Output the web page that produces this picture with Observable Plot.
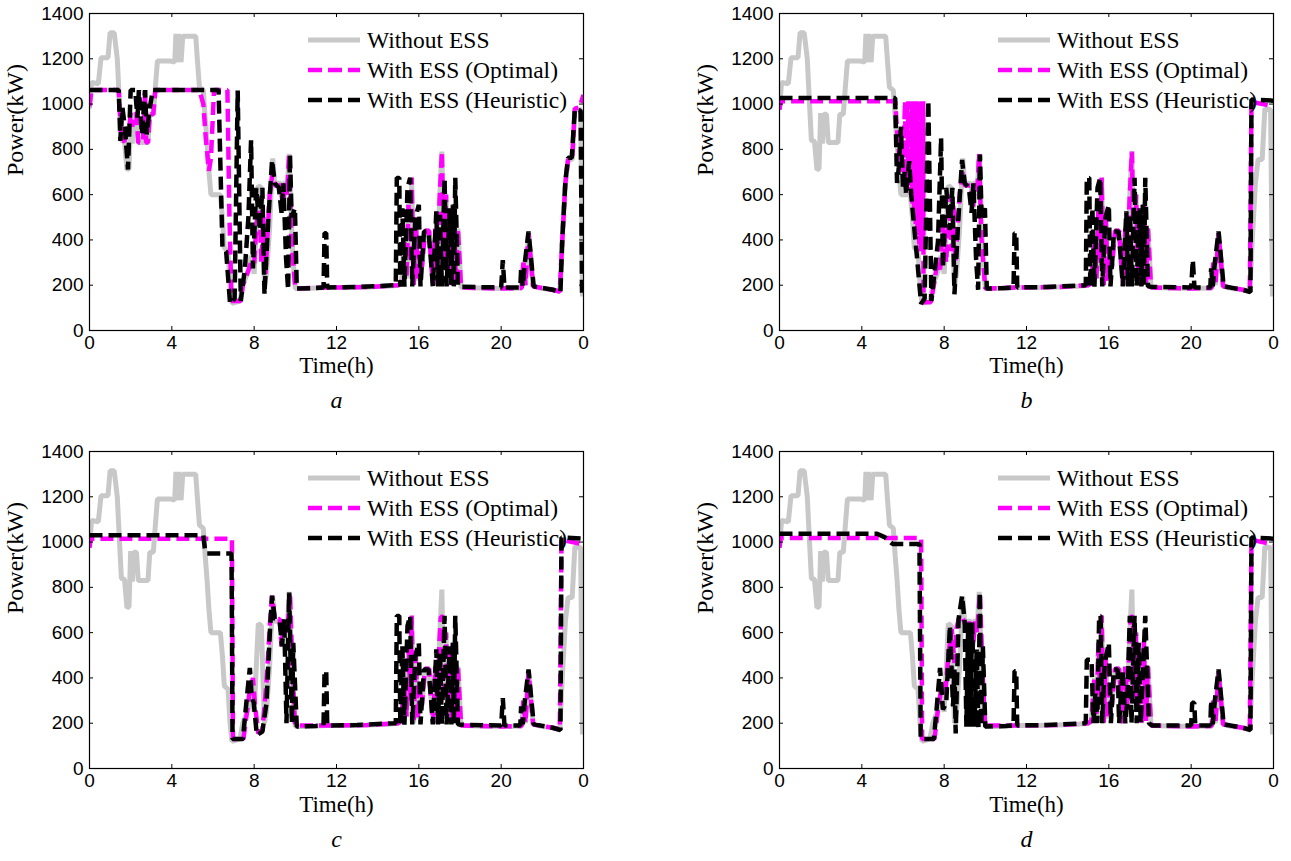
<!DOCTYPE html>
<html>
<head>
<meta charset="utf-8">
<script src="https://cdn.jsdelivr.net/npm/d3@7"></script>
<script src="https://cdn.jsdelivr.net/npm/@observablehq/plot@0.6"></script>
<style>
  html, body { margin: 0; padding: 0; background: #fff; }
  #root { position: relative; width: 1291px; height: 861px; overflow: hidden; background: #fff; }
  .panel { position: absolute; width: 640px; height: 425px; }
  .legend { position: absolute; font-family: "Liberation Serif", "Times New Roman", serif; font-size: 23.5px; color: #000; }
  .legend .row { position: absolute; left: 0; height: 30px; display: flex; align-items: center; white-space: nowrap; }
  .legend svg { display: block; margin-right: 7px; }
</style>
</head>
<body>
<div id="root"></div>
<script>
// ---------------- data ----------------
const xTicks = [0, 4, 8, 12, 16, 20, 24];
const xTickLabels = ["0", "4", "8", "12", "16", "20", "0"];
const yTicks = [0, 200, 400, 600, 800, 1000, 1200, 1400];
const panelLetters = ["a", "b", "c", "d"];
const seriesNames = ["Without ESS", "With ESS (Optimal)", "With ESS (Heuristic)"];

// [time (h), power (kW)]
const loadWithoutESS = [[0,980],[0.1,1095],[0.43,1090],[0.56,1205],[0.9,1205],[1.0,1315],[1.2,1315],[1.35,1200],[1.45,1015],[1.55,840],[1.7,835],[1.82,710],[1.92,715],[2.0,960],[2.08,825],[2.15,955],[2.28,955],[2.37,830],[2.84,830],[2.93,955],[3.1,955],[3.2,1075],[3.3,1190],[3.95,1190],[4.14,1185],[4.2,1310],[4.27,1185],[4.34,1310],[4.45,1185],[4.53,1300],[5.16,1300],[5.25,1185],[5.34,1075],[5.53,1060],[5.62,940],[5.71,835],[5.8,705],[5.9,600],[6.36,600],[6.46,495],[6.55,365],[6.73,350],[6.83,200],[6.92,120],[7.3,130],[7.45,200],[7.7,260],[7.85,330],[8.0,250],[8.2,640],[8.35,630],[8.5,200],[8.6,250],[8.75,450],[8.9,760],[9.0,650],[9.3,650],[9.4,540],[9.5,660],[9.6,600],[9.7,780],[9.8,500],[9.9,300],[10.0,185],[10.5,185],[11.0,188],[11.5,190],[12.5,190],[13.5,192],[14.5,195],[15.0,200],[15.15,210],[15.3,400],[15.4,230],[15.5,560],[15.6,300],[15.65,675],[15.75,200],[15.85,500],[15.95,220],[16.05,350],[16.15,280],[16.3,440],[16.5,440],[16.6,300],[16.7,200],[16.8,450],[16.9,260],[17.0,560],[17.12,790],[17.22,300],[17.32,600],[17.42,250],[17.5,520],[17.6,200],[17.7,560],[17.8,210],[17.9,450],[18.05,190],[19.0,188],[20.0,185],[21.0,188],[21.08,300],[21.18,200],[21.33,430],[21.55,195],[22.0,185],[22.5,180],[22.85,172],[22.97,400],[23.12,650],[23.25,755],[23.45,755],[23.58,980],[23.86,975],[23.95,150]];

const optimalMorningA = [[0,990],[0.1,1062],[1.42,1062],[1.55,840],[1.7,835],[1.8,900],[1.9,860],[2.0,960],[2.08,900],[2.15,955],[2.28,955],[2.37,830],[2.6,830],[2.7,1062],[2.75,830],[2.84,830],[2.93,955],[3.1,955],[3.2,1062],[5.34,1062],[5.53,1000],[5.65,850],[5.8,705],[5.9,760],[6.05,1062],[6.7,1062],[6.8,500],[6.9,130],[7.35,130],[7.45,200],[7.7,260],[7.85,300],[8.0,290],[8.1,450],[8.25,580],[8.35,300],[8.45,500],[8.55,250],[8.75,600],[8.9,700],[9.0,640],[9.3,640],[9.4,540],[9.5,650],[9.6,600],[9.7,780],[9.8,420],[9.9,300],[10.0,185]];
const optimalMorningB = [[0,975],[0.05,1012],[5.62,1012],[5.7,900],[5.8,790],[5.9,760],[6.0,700],[6.1,1012],[6.14,680],[6.18,1012],[6.22,660],[6.26,1012],[6.3,630],[6.34,1012],[6.38,600],[6.42,1012],[6.46,560],[6.5,1012],[6.54,520],[6.58,1012],[6.62,470],[6.66,1012],[6.7,420],[6.74,1012],[6.78,380],[6.82,1012],[6.86,350],[6.9,1012],[6.94,380],[6.98,1012],[7.0,125],[7.35,125],[7.5,200],[7.66,300],[7.8,270],[7.95,480],[8.1,300],[8.25,600],[8.35,350],[8.45,560],[8.55,300],[8.75,600],[8.9,700],[9.0,640],[9.3,640],[9.4,540],[9.5,650],[9.6,600],[9.7,780],[9.8,420],[9.9,300],[10.0,185]];
const optimalMorningC = [[0,975],[0.05,1015],[6.92,1015],[6.97,130],[7.48,130],[7.75,320],[7.94,400],[8.03,290],[8.2,155],[8.4,170],[8.6,380],[8.77,645],[8.87,763],[9.0,660],[9.24,660],[9.33,540],[9.46,660],[9.61,600],[9.74,777],[9.85,466],[9.98,200],[10.07,190]];
const optimalMorningD = [[0,975],[0.05,1018],[6.88,1018],[6.93,130],[7.53,130],[7.7,260],[7.9,378],[8.05,318],[8.2,496],[8.37,615],[8.5,466],[8.6,620],[8.75,674],[8.87,674],[9.0,640],[9.3,640],[9.4,540],[9.5,650],[9.6,600],[9.74,777],[9.85,460],[9.98,200],[10.05,185]];

const optimalAfternoonAB = [[10.0,185],[11.5,190],[13.5,192],[15.0,200],[15.15,210],[15.3,400],[15.4,230],[15.5,560],[15.6,300],[15.65,675],[15.75,200],[15.85,500],[15.95,220],[16.05,350],[16.15,280],[16.3,440],[16.5,440],[16.6,300],[16.7,200],[16.8,450],[16.9,260],[17.0,560],[17.12,790],[17.22,300],[17.32,600],[17.42,250],[17.5,520],[17.6,200],[17.7,560],[17.8,210],[17.9,450],[18.05,190],[20.0,185],[21.0,188],[21.08,300],[21.18,200],[21.33,430],[21.55,195],[22.5,180],[22.85,172]];
const optimalAfternoonCD = [[10.07,190],[11.5,190],[13.5,192],[15.0,200],[15.15,210],[15.3,400],[15.4,230],[15.5,560],[15.6,300],[15.65,675],[15.75,200],[15.85,500],[15.95,220],[16.05,350],[16.15,280],[16.3,440],[16.5,440],[16.6,300],[16.7,200],[16.8,450],[16.9,260],[17.0,560],[17.07,670],[17.17,670],[17.24,300],[17.32,600],[17.42,250],[17.5,520],[17.6,200],[17.7,560],[17.8,210],[17.9,450],[18.05,190],[20.0,185],[21.0,188],[21.08,300],[21.18,200],[21.33,430],[21.55,195],[22.5,180],[22.85,172]];
const optimalEndA = [[22.85,172],[22.97,400],[23.12,650],[23.25,755],[23.45,755],[23.58,980],[23.8,985],[24,1040]];
const optimalEndCharge = [[22.85,172],[22.93,1010],[24,990]];

const heuristicMorningA = [[0,1062],[1.42,1062],[1.5,837],[1.6,985],[1.72,896],[1.87,711],[2.0,1062],[2.22,1062],[2.33,940],[2.4,1062],[2.55,866],[2.7,1062],[2.78,866],[2.93,985],[3.08,1062],[6.27,1062],[6.46,363],[6.64,348],[6.83,118],[7.05,140],[7.2,1060],[7.35,130],[7.55,274],[7.72,500],[7.85,840],[7.94,274],[8.1,630],[8.27,444],[8.4,630],[8.5,160],[8.68,480],[8.87,753],[9.0,650],[9.2,630],[9.33,520],[9.42,650],[9.55,318],[9.65,180],[9.74,777],[9.82,500],[9.98,540],[10.07,185]];
const heuristicMorningB = [[0,1027],[5.62,1027],[5.71,652],[5.8,720],[5.9,900],[6.0,630],[6.08,700],[6.15,600],[6.3,748],[6.4,600],[6.5,500],[6.64,363],[6.88,118],[7.05,140],[7.23,1015],[7.38,130],[7.5,230],[7.7,393],[7.85,850],[7.94,274],[8.1,630],[8.27,444],[8.4,630],[8.5,160],[8.68,480],[8.87,753],[9.0,650],[9.2,630],[9.33,520],[9.42,650],[9.55,318],[9.65,180],[9.74,777],[9.82,500],[9.98,540],[10.07,185]];
const heuristicMorningC = [[0,1030],[5.53,1030],[5.62,960],[5.7,950],[6.9,950],[6.95,130],[7.45,130],[7.65,318],[7.79,444],[7.88,318],[7.98,290],[8.13,148],[8.4,163],[8.6,290],[8.77,615],[8.87,763],[9.0,660],[9.24,650],[9.35,540],[9.46,660],[9.57,200],[9.7,777],[9.83,200],[9.9,555],[10.07,185]];
const heuristicMorningD = [[0,1037],[4.74,1037],[5.1,1022],[5.49,992],[6.8,992],[6.86,130],[7.5,130],[7.63,260],[7.8,444],[7.94,260],[8.1,290],[8.28,630],[8.43,274],[8.5,437],[8.56,155],[8.7,660],[8.87,763],[9.0,645],[9.08,185],[9.17,645],[9.26,185],[9.36,645],[9.47,185],[9.58,525],[9.67,178],[9.73,777],[9.8,190],[9.88,540],[10.0,185]];

const heuristicAfternoon = [[10.07,185],[11.0,188],[11.37,190],[11.42,430],[11.5,430],[11.55,190],[13.0,192],[14.88,200],[14.93,674],[15.05,674],[15.1,193],[15.2,540],[15.3,193],[15.45,630],[15.58,674],[15.68,195],[15.83,496],[16.0,555],[16.08,195],[16.25,437],[16.47,437],[16.6,300],[16.68,195],[16.85,526],[16.93,195],[17.03,511],[17.12,195],[17.25,674],[17.35,195],[17.5,540],[17.58,195],[17.65,555],[17.7,195],[17.77,674],[17.9,195],[18.05,193],[20.0,190],[20.08,311],[20.16,190],[20.93,190],[20.97,274],[21.05,195],[21.15,300],[21.33,437],[21.58,195],[22.5,180],[22.88,170]];
const heuristicAfternoonD = [[10.0,185],[11.0,188],[11.37,190],[11.42,430],[11.5,430],[11.55,190],[13.0,192],[14.88,200],[14.93,480],[15.16,480],[15.25,200],[15.35,333],[15.44,200],[15.53,674],[15.6,674],[15.68,200],[15.8,466],[16.0,555],[16.1,200],[16.24,437],[16.43,437],[16.5,200],[16.67,437],[16.8,200],[16.9,300],[17.02,674],[17.1,200],[17.25,674],[17.35,200],[17.45,555],[17.55,200],[17.77,674],[17.95,200],[18.1,190],[20.0,190],[20.05,290],[20.15,290],[20.2,190],[20.93,190],[20.97,300],[21.05,195],[21.15,300],[21.33,437],[21.58,195],[22.5,180],[22.88,170]];
const heuristicEndA = [[22.88,170],[22.97,407],[23.12,660],[23.25,763],[23.43,763],[23.58,978],[23.86,970],[23.93,155]];
const heuristicEndCharge = [[22.88,170],[22.93,1020],[24,1015]];

// ---------------- assemble per-panel series ----------------
const panelsData = [
  {opt: optimalMorningA.concat(optimalAfternoonAB, optimalEndA), heu: heuristicMorningA.concat(heuristicAfternoon, heuristicEndA)},
  {opt: optimalMorningB.concat(optimalAfternoonAB, optimalEndCharge), heu: heuristicMorningB.concat(heuristicAfternoon, heuristicEndCharge)},
  {opt: optimalMorningC.concat(optimalAfternoonCD, optimalEndCharge), heu: heuristicMorningC.concat(heuristicAfternoon, heuristicEndCharge)},
  {opt: optimalMorningD.concat(optimalAfternoonCD, optimalEndCharge), heu: heuristicMorningD.concat(heuristicAfternoonD, heuristicEndCharge)}
];

// ---------------- style / layout ----------------
const GRAY = "#c8c8c8", MAGENTA = "#ff00ff", BLACK = "#000000";
const DASH = "13,6";
const W = 640, H = 425, ML = 89, MR = 57, MT = 13, MB = 95;
const FW = W - ML - MR, FH = H - MT - MB;
const positions = [[0, 0], [690, 0], [0, 438], [690, 438]];
const sans = "'Liberation Sans', Arial, sans-serif";
const serif = "'Liberation Serif', 'Times New Roman', serif";
const tickLen = 4;

function makePanel(i) {
  const d = panelsData[i];
  const px = p => p[0], py = p => p[1];
  const bottomRow = i >= 2;
  return Plot.plot({
    width: W, height: H,
    marginLeft: ML, marginRight: MR, marginTop: MT, marginBottom: MB,
    x: {domain: [0, 24]},
    y: {domain: [0, 1400]},
    style: {background: "transparent", overflow: "visible"},
    marks: [
      Plot.line(loadWithoutESS, {x: px, y: py, stroke: GRAY, strokeWidth: 5, strokeLinecap: "butt", strokeLinejoin: "miter", clip: true}),
      Plot.line(d.opt, {x: px, y: py, stroke: MAGENTA, strokeWidth: 4.5, strokeDasharray: DASH, strokeLinecap: "butt", strokeLinejoin: "miter", clip: true}),
      Plot.line(d.heu, {x: px, y: py, stroke: BLACK, strokeWidth: 4.5, strokeDasharray: DASH, strokeLinecap: "butt", strokeLinejoin: "miter", clip: true}),
      Plot.frame({stroke: "black", strokeWidth: 1.2}),
      Plot.tickX(xTicks, {x: t => t, insetTop: FH - tickLen, stroke: "black"}),
      Plot.tickX(xTicks, {x: t => t, insetBottom: FH - tickLen, stroke: "black"}),
      Plot.tickY(yTicks, {y: t => t, insetRight: FW - tickLen, stroke: "black"}),
      Plot.tickY(yTicks, {y: t => t, insetLeft: FW - tickLen, stroke: "black"}),
      Plot.axisX({ticks: xTicks, tickFormat: t => xTickLabels[xTicks.indexOf(t)], tickSize: 0, tickPadding: 5, fontSize: 19, fontFamily: sans, label: null, fill: "black"}),
      Plot.axisY({ticks: yTicks, tickFormat: t => String(t), tickSize: 0, tickPadding: 6, fontSize: 19, fontFamily: sans, label: null, fill: "black"}),
      Plot.text(["Time(h)"], {text: t => t, frameAnchor: "bottom", dy: bottomRow ? 43 : 42, fontSize: 23, fontFamily: serif, fill: "black"}),
      Plot.text(["Power(kW)"], {text: t => t, frameAnchor: "left", dx: -74, dy: 4, rotate: -90, fontSize: 24, fontFamily: serif, fill: "black"}),
      Plot.text([panelLetters[i]], {text: t => t, frameAnchor: "bottom", dy: bottomRow ? 78 : 77, fontSize: 24, fontStyle: "italic", fontFamily: serif, fill: "black"})
    ]
  });
}

function makeLegend() {
  const lg = document.createElement("div");
  lg.className = "legend";
  const styles = [
    {stroke: GRAY, width: 5, dash: null},
    {stroke: MAGENTA, width: 4.5, dash: DASH},
    {stroke: BLACK, width: 4.5, dash: DASH}
  ];
  seriesNames.forEach((name, k) => {
    const row = document.createElement("div");
    row.className = "row";
    row.style.top = (k * 30) + "px";
    const dashAttr = styles[k].dash ? ` stroke-dasharray="14,6"` : "";
    row.innerHTML = `<svg width="52" height="10"><line x1="0" x2="52" y1="5" y2="5" stroke="${styles[k].stroke}" stroke-width="${styles[k].width}"${dashAttr}/></svg><span>${name}</span>`;
    lg.appendChild(row);
  });
  return lg;
}

const root = document.getElementById("root");
positions.forEach(([left, top], i) => {
  const div = document.createElement("div");
  div.className = "panel";
  div.style.left = left + "px";
  div.style.top = top + "px";
  div.appendChild(makePanel(i));
  const lg = makeLegend();
  lg.style.left = "308px";
  lg.style.top = (MT + 12) + "px";
  lg.style.width = "300px";
  lg.style.height = "90px";
  div.appendChild(lg);
  root.appendChild(div);
});
</script>
</body>
</html>
